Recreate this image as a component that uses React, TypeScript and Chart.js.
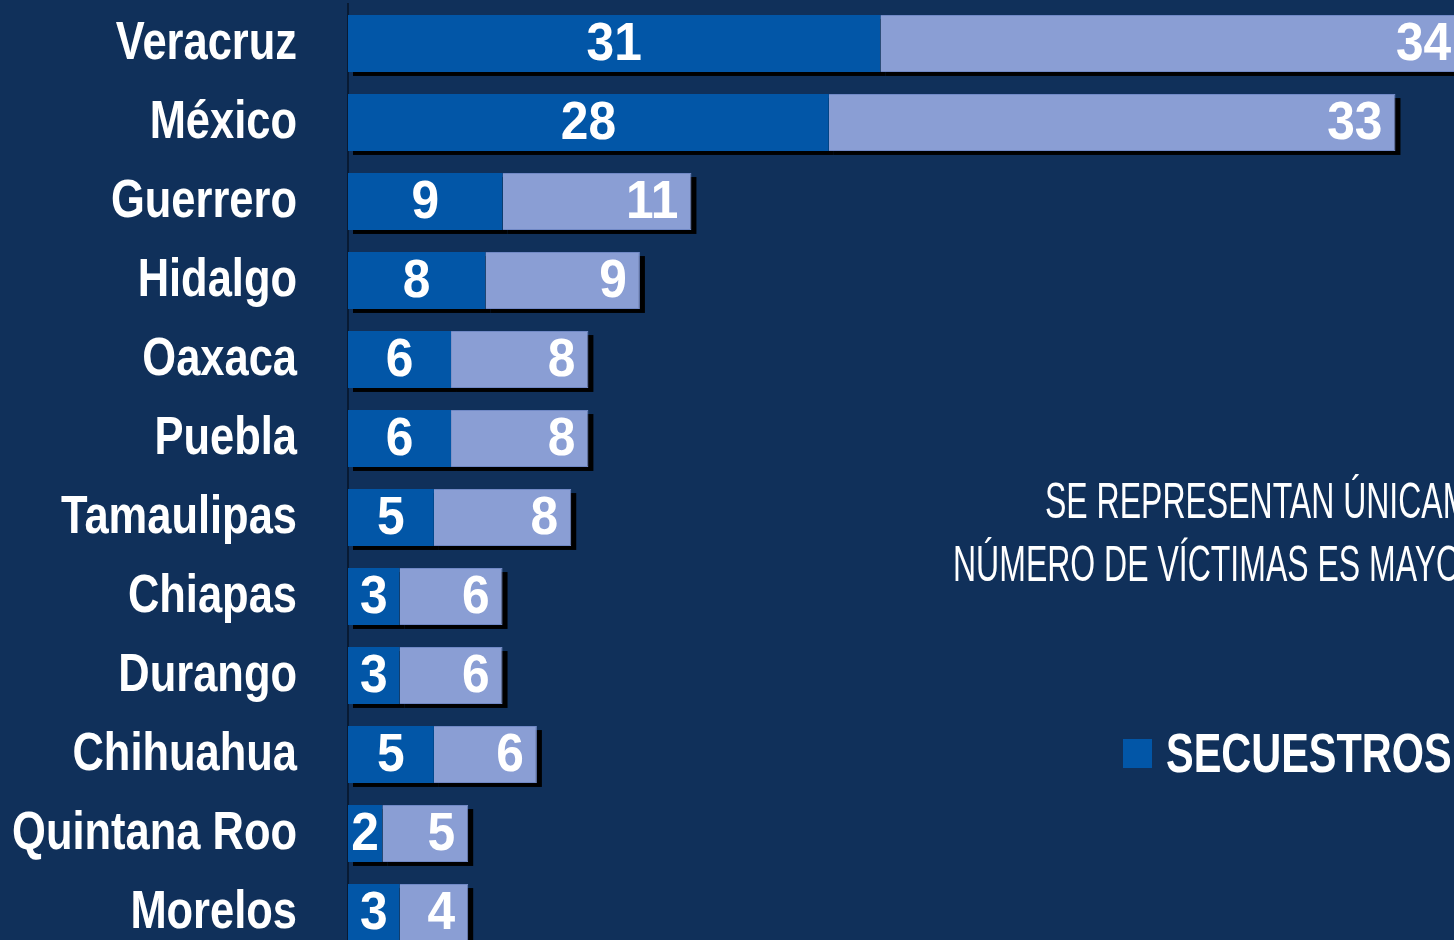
import React, { useEffect, useRef } from "react";
import { Chart, registerables } from "chart.js";

Chart.register(...registerables);

const categories = [
  "Veracruz",
  "México",
  "Guerrero",
  "Hidalgo",
  "Oaxaca",
  "Puebla",
  "Tamaulipas",
  "Chiapas",
  "Durango",
  "Chihuahua",
  "Quintana Roo",
  "Morelos",
];
const secuestros = [31, 28, 9, 8, 6, 6, 5, 3, 3, 5, 2, 3];
const victimas = [34, 33, 11, 9, 8, 8, 8, 6, 6, 6, 5, 4];
const seriesNames = ["SECUESTROS", "VÍCTIMAS"];
const noteLines = ["SE REPRESENTAN ÚNICAMENTE", "NÚMERO DE VÍCTIMAS ES MAYOR"];

const BG = "#10305a";
const DARK = "#0256a7";
const LIGHT = "#8a9ed4";
const FONT = "'Liberation Sans', Arial, sans-serif";

function drawSquished(ctx: CanvasRenderingContext2D, text: string, x: number, y: number, sx: number, align: CanvasTextAlign) {
  ctx.save();
  ctx.translate(x, y);
  ctx.scale(sx, 1);
  ctx.textAlign = align;
  ctx.fillText(text, 0, 0);
  ctx.restore();
}

const shadowPlugin = {
  id: "barShadow",
  beforeDatasetsDraw(chart: any) {
    const ctx = chart.ctx;
    ctx.save();
    ctx.fillStyle = "#000000";
    [0, 1].forEach((d) => {
      chart.getDatasetMeta(d).data.forEach((el: any) => {
        const left = Math.min(el.base, el.x);
        const w = Math.abs(el.x - el.base);
        const top = el.y - el.height / 2;
        ctx.fillRect(left + 5, top + 4, w, el.height);
      });
    });
    ctx.restore();
  },
  afterDatasetsDraw(chart: any) {
    const ctx = chart.ctx;
    ctx.save();
    ctx.fillStyle = "#ffffff";
    ctx.font = `bold 54px ${FONT}`;
    ctx.textBaseline = "middle";
    const m0 = chart.getDatasetMeta(0);
    const m1 = chart.getDatasetMeta(1);
    m0.data.forEach((el: any, i: number) => {
      drawSquished(ctx, String(secuestros[i]), (el.base + el.x) / 2, el.y + 2, 0.92, "center");
    });
    m1.data.forEach((el: any, i: number) => {
      drawSquished(ctx, String(victimas[i]), el.x - 13, el.y + 2, 0.92, "right");
    });
    ctx.restore();
  },
};

const categoryLabelPlugin = {
  id: "categoryLabels",
  afterDraw(chart: any) {
    const ctx = chart.ctx;
    const yScale = chart.scales.y;
    ctx.save();
    ctx.fillStyle = "#ffffff";
    ctx.font = `bold 53px ${FONT}`;
    ctx.textBaseline = "middle";
    categories.forEach((c, i) => {
      drawSquished(ctx, c, yScale.right - 51, yScale.getPixelForTick(i) + 1, 0.82, "right");
    });
    ctx.restore();
  },
};

export default function App() {
  const ref = useRef<HTMLCanvasElement | null>(null);

  useEffect(() => {
    document.body.style.margin = "0";
    document.body.style.background = BG;
    if (!ref.current) return;
    const chart = new Chart(ref.current, {
      type: "bar",
      data: {
        labels: categories,
        datasets: [
          {
            label: seriesNames[0],
            data: secuestros,
            backgroundColor: DARK,
            borderWidth: 0,
            barPercentage: 0.72,
            categoryPercentage: 1,
          },
          {
            label: seriesNames[1],
            data: victimas,
            backgroundColor: LIGHT,
            borderColor: "#7189c6",
            borderWidth: 1,
            barPercentage: 0.72,
            categoryPercentage: 1,
          },
        ],
      },
      options: {
        indexAxis: "y",
        animation: false,
        responsive: false,
        devicePixelRatio: 1,
        layout: { padding: { top: 4, left: 0, right: 0, bottom: 0 } },
        plugins: {
          legend: { display: false },
          tooltip: { enabled: false },
        },
        scales: {
          x: {
            stacked: true,
            min: 0,
            max: 70,
            display: false,
          },
          y: {
            stacked: true,
            grid: { display: false, drawTicks: false },
            border: { display: true, color: "#081a33", width: 2 },
            ticks: { display: false },
            afterFit(scale: any) {
              scale.width = 348;
              scale.paddingTop = 0;
              scale.paddingBottom = 0;
            },
          },
        },
      },
      plugins: [shadowPlugin, categoryLabelPlugin],
    } as any);
    return () => chart.destroy();
  }, []);

  return (
    <div
      style={{
        position: "relative",
        width: 1454,
        height: 940,
        overflow: "hidden",
        background: BG,
      }}
    >
      <canvas
        ref={ref}
        width={1550}
        height={952}
        style={{ position: "absolute", left: 0, top: 0, width: 1550, height: 952 }}
      />
      {noteLines.map((t, i) => (
        <div
          key={i}
          style={{
            position: "absolute",
            left: i === 0 ? 1045 : 953,
            top: i === 0 ? 476 : 539,
            fontFamily: FONT,
            fontSize: 50,
            lineHeight: "50px",
            color: "#ffffff",
            whiteSpace: "nowrap",
            transform: "scaleX(0.64)",
            transformOrigin: "left top",
          }}
        >
          {t}
        </div>
      ))}
      <div
        style={{
          position: "absolute",
          left: 1123,
          top: 739,
          width: 29,
          height: 29,
          background: DARK,
        }}
      />
      <div
        style={{
          position: "absolute",
          left: 1166,
          top: 725,
          fontFamily: FONT,
          fontSize: 56,
          lineHeight: "56px",
          fontWeight: "bold",
          color: "#ffffff",
          whiteSpace: "nowrap",
          transform: "scaleX(0.74)",
          transformOrigin: "left top",
        }}
      >
        {seriesNames[0]}
      </div>
    </div>
  );
}
